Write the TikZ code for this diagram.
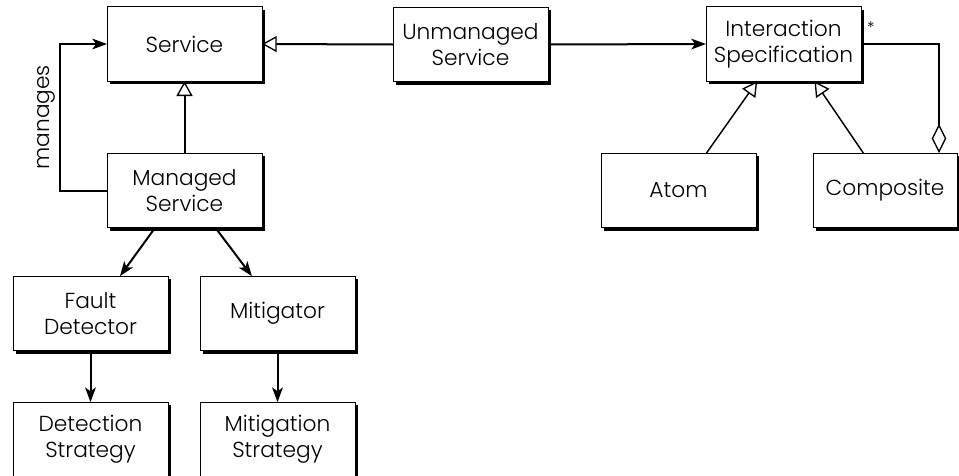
\documentclass[tikz,border=0pt]{standalone}
\usepackage{fontspec}
\setmainfont{Poppins Light}
\usetikzlibrary{arrows.meta,calc}

\tikzset{
  classbox/.style={draw=black, line width=0.7pt, fill=white,
    minimum width=116.25pt, minimum height=56pt, inner sep=2pt, outer sep=0pt,
    align=center, font=\fontsize{16.3}{19.5}\selectfont},
  boxshadow/.style={line width=1.8pt, line cap=butt},
  link/.style={line width=1.5pt},
  thin link/.style={line width=1.1pt},
  assoc/.style={-{Stealth[length=11pt,width=8pt,inset=2.8pt]}},
  gen/.style={-{Triangle[open,length=11pt,width=12pt,line width=1pt]}},
  aggr/.style={{Diamond[open,length=22pt,width=11pt,line width=1pt]}-},
}

\begin{document}
\begin{tikzpicture}[x=0.75pt, y=-0.75pt]
  \useasboundingbox (0,0) rectangle (959,475);

  % classes
  \node[classbox] (service)     at (184.5, 44)    {Service};
  \node[classbox] (managed)     at (184.5, 190.5) {Managed\\Service};
  \node[classbox] (unmanaged)   at (470.5, 44.5)  {Unmanaged\\Service};
  \node[classbox] (interaction) at (783.5, 44)    {Interaction\\Specification};
  \node[classbox] (atom)        at (678.5, 190.5) {Atom};
  \node[classbox, minimum width=108pt] (composite) at (885, 190.5) {Composite};
  \node[classbox] (fault)       at (90.5, 313.5)  {Fault\\Detector};
  \node[classbox] (mitigator)   at (277.5, 313.5) {Mitigator};
  \node[classbox] (detection)   at (90.5, 439.5)  {Detection\\Strategy};
  \node[classbox] (mitigation)  at (277.5, 439.5) {Mitigation\\Strategy};

  % right and bottom shadow edges of the class boxes
  \foreach \n in {service, managed, unmanaged, interaction, atom, composite,
                  fault, mitigator, detection, mitigation}
    \draw[boxshadow] ($(\n.north east)+(1.5,3)$) -- ($(\n.south east)+(1.5,1.5)$)
                     -- ($(\n.south west)+(3,1.5)$);

  % generalisations
  \draw[link, gen] (unmanaged.west) -- (service.east);
  \draw[link, gen] (managed.north) -- (service.south);
  \draw[thin link, gen] ($(atom.north west)!0.68!(atom.north east)$)
      -- ($(interaction.south west)!0.33!(interaction.south east)$);
  \draw[thin link, gen] ($(composite.north west)!0.35!(composite.north east)$)
      -- ($(interaction.south west)!0.70!(interaction.south east)$);

  % associations
  \draw[link, assoc] (unmanaged.east) -- (interaction.west);
  \draw[link, assoc] (managed.west) -- ++(-47,0) |- (service.west)
      node[pos=0.25, rotate=90, anchor=south, inner sep=3pt,
           font=\fontsize{16.3}{19}\selectfont] {manages};
  \draw[link, assoc] ($(managed.south west)!0.31!(managed.south east)$)
      -- ($(fault.north west)!0.69!(fault.north east)$);
  \draw[link, assoc] ($(managed.south west)!0.70!(managed.south east)$)
      -- ($(mitigator.north west)!0.335!(mitigator.north east)$);
  \draw[link, assoc] (fault.south) -- (detection.north);
  \draw[link, assoc] (mitigator.south) -- (mitigation.north);

  % aggregation
  \draw[thin link, aggr] ($(composite.north west)!0.875!(composite.north east)$)
      |- (interaction.east)
      node[pos=1, anchor=south west, inner sep=0pt, xshift=4pt, yshift=7pt,
           font=\fontsize{12}{12}\selectfont] {*};
\end{tikzpicture}
\end{document}
